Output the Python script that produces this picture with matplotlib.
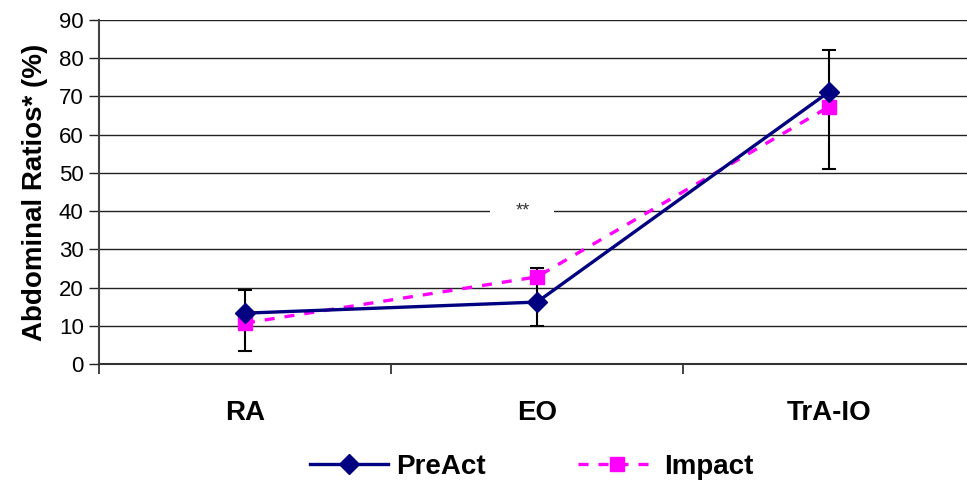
import numpy as np
import matplotlib.pyplot as plt

plt.rcParams['font.family'] = ['Liberation Sans', 'DejaVu Sans']

# Data
categories = ["RA", "EO", "TrA-IO"]
preact = [13.3, 16.2, 71.2]
impact = [10.7, 22.8, 67.3]
# error bar extents (low, high) drawn in black
err_low = [3.4, 10.0, 51.0]
err_high = [19.4, 25.1, 82.2]

x = np.arange(len(categories))

fig = plt.figure(figsize=(9.67, 4.83), dpi=100)
ax = fig.add_axes([99 / 967, 1 - 364 / 483, 876 / 967, 344 / 483])

# gridlines
ax.set_ylim(0, 90)
ax.set_yticks(np.arange(0, 91, 10))
ax.grid(axis="y", color="#222222", linewidth=1.0)
ax.set_axisbelow(True)

# error bars
mid = [(lo + hi) / 2 for lo, hi in zip(err_low, err_high)]
yerr = [[m - lo for m, lo in zip(mid, err_low)], [hi - m for m, hi in zip(mid, err_high)]]
ax.errorbar(x, mid, yerr=yerr, fmt="none", ecolor="black", elinewidth=1.5,
            capsize=5, capthick=1.5, zorder=2)

ax.plot(x, preact, color="#000080", linewidth=2.4, marker="D", markersize=10,
        markerfacecolor="#000080", markeredgecolor="#000080", label="PreAct", zorder=4)
ax.plot(x, impact, color="#FF00FF", linewidth=2.4, linestyle=(0, (3, 3)), marker="s",
        markersize=10, markerfacecolor="#FF00FF", markeredgecolor="#FF00FF",
        label="Impact", zorder=3)

ax.text(0.95, 40, "**", ha="center", va="center", fontsize=13, color="#333333",
        bbox=dict(facecolor="white", edgecolor="none", pad=18), zorder=5)

ax.set_xlim(-0.5, 2.5)
ax.set_xticks(x)
ax.set_xticklabels(categories, fontsize=20, fontweight="bold")
ax.set_xticks([-0.5, 0.5, 1.5, 2.5], minor=True)
ax.tick_params(axis="x", which="major", length=0, pad=26)
ax.tick_params(axis="x", which="minor", length=7, width=1.2, color="#222222")
ax.tick_params(axis="y", length=7, width=1.0, color="#222222", labelsize=16, pad=4)

for side in ["top", "right"]:
    ax.spines[side].set_visible(False)
ax.spines["left"].set_color("#444444")
ax.spines["left"].set_linewidth(1.5)
ax.spines["bottom"].set_color("#333333")
ax.spines["bottom"].set_linewidth(1.5)

ax.set_ylabel("Abdominal Ratios* (%)", fontsize=20, fontweight="bold", labelpad=8)

fig.legend(loc="center", bbox_to_anchor=(0.55, 1 - 467 / 483), ncol=2, frameon=False,
           prop={"size": 20, "weight": "bold"}, handlelength=2.8, columnspacing=3.3,
           handletextpad=0.3)

fig.savefig("out.png", dpi=100)
